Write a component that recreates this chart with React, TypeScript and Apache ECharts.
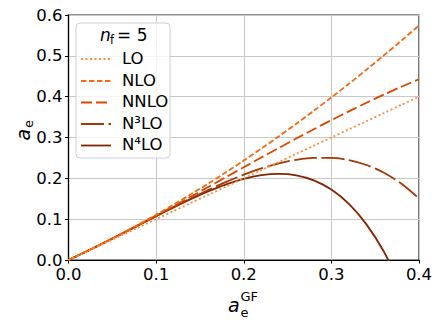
import React, { useEffect, useRef } from "react";
import * as echarts from "echarts";

const xs = [0, 0.02, 0.04, 0.06, 0.08, 0.1, 0.12, 0.14, 0.16, 0.18, 0.2, 0.22, 0.24, 0.26, 0.28, 0.3, 0.32, 0.34, 0.36, 0.38, 0.4];
const lo = [0, 0.02, 0.04, 0.06, 0.08, 0.1, 0.12, 0.14, 0.16, 0.18, 0.2, 0.22, 0.24, 0.26, 0.28, 0.3, 0.32, 0.34, 0.36, 0.38, 0.4];
const nlo = [0, 0.0204, 0.0417, 0.0639, 0.087, 0.1109, 0.1357, 0.1614, 0.1879, 0.2153, 0.2436, 0.2728, 0.3028, 0.3337, 0.3655, 0.3981, 0.4316, 0.466, 0.5013, 0.5374, 0.5744];
const nnlo = [0, 0.0204, 0.0416, 0.0635, 0.0859, 0.1088, 0.1321, 0.1557, 0.1795, 0.2033, 0.2271, 0.2509, 0.2743, 0.2975, 0.3203, 0.3425, 0.3641, 0.385, 0.4052, 0.4244, 0.4426];
const n3lo = [0, 0.0204, 0.0416, 0.0634, 0.0854, 0.1077, 0.1297, 0.1513, 0.172, 0.1913, 0.2089, 0.2242, 0.2365, 0.2454, 0.2502, 0.2502, 0.2446, 0.2327, 0.2137, 0.1867, 0.1508];
const n4lo = [0, 0.0204, 0.0416, 0.0634, 0.0853, 0.1074, 0.1289, 0.1496, 0.1686, 0.1853, 0.1987, 0.2077, 0.211, 0.2074, 0.1951, 0.1724, 0.1372, 0.0873, 0.0202, -0.0669, null];

const seriesNames = ["LO", "NLO", "NNLO", "N³LO", "N⁴LO"];
const seriesValues = [lo, nlo, nnlo, n3lo, n4lo];
const colors = ["#fd8d3c", "#f16913", "#d94801", "#a63603", "#7f2704"];
const dashes: number[][] = [[2, 2.5], [5.5, 2.5], [11, 4], [23, 4.5], []];
const widths = [1.8, 1.8, 1.8, 1.8, 1.8];

const FONT = "DejaVu Sans";

export default function App() {
  const ref = useRef<HTMLDivElement>(null);
  useEffect(() => {
    if (!ref.current) return;
    const chart = echarts.init(ref.current, undefined, { renderer: "svg" });

    const legendX = 76, legendY = 23, legendW = 94, legendH = 135;
    const rowYs = [58, 80, 101.5, 123, 144.5];
    const legendEls: any[] = [
      {
        type: "rect",
        shape: { x: legendX, y: legendY, width: legendW, height: legendH, r: 4 },
        style: { fill: "rgba(255,255,255,0.8)", stroke: "#d0d0d0", lineWidth: 1 },
        z: 100,
      },
      { type: "text", x: 100, y: 34.5, z: 101, style: { text: "n", font: `italic 17px '${FONT}'`, fill: "#000", verticalAlign: "middle", align: "left" } },
      { type: "text", x: 110, y: 40, z: 101, style: { text: "f", font: `11.5px '${FONT}'`, fill: "#000", verticalAlign: "middle", align: "left" } },
      { type: "text", x: 117, y: 34.5, z: 101, style: { text: "= 5", font: `17px '${FONT}'`, fill: "#000", verticalAlign: "middle", align: "left" } },
    ];
    seriesNames.forEach((name, i) => {
      legendEls.push({
        type: "line",
        z: 101,
        shape: { x1: 81, y1: rowYs[i] + 1, x2: 111, y2: rowYs[i] + 1 },
        style: { stroke: colors[i], lineWidth: widths[i], lineDash: dashes[i].length ? dashes[i] : null },
      });
      legendEls.push({
        type: "text",
        z: 101,
        x: 122,
        y: rowYs[i],
        style: { text: name, font: `16.5px '${FONT}'`, fill: "#000", verticalAlign: "middle", align: "left" },
      });
    });

    const axisNameEls: any[] = [
      { type: "text", x: 228, y: 305, style: { text: "a", font: `italic 19px '${FONT}'`, fill: "#000", verticalAlign: "middle", align: "left" } },
      { type: "text", x: 240.5, y: 312, style: { text: "e", font: `13px '${FONT}'`, fill: "#000", verticalAlign: "middle", align: "left" } },
      { type: "text", x: 240.5, y: 296, style: { text: "GF", font: `13px '${FONT}'`, fill: "#000", verticalAlign: "middle", align: "left" } },
      {
        type: "group",
        x: 22.5,
        y: 140.5,
        rotation: Math.PI / 2,
        children: [
          { type: "text", x: 0, y: 0, style: { text: "a", font: `italic 19px '${FONT}'`, fill: "#000", verticalAlign: "middle", align: "left" } },
          { type: "text", x: 12.5, y: 5.5, style: { text: "e", font: `13px '${FONT}'`, fill: "#000", verticalAlign: "middle", align: "left" } },
        ],
      },
    ];

    chart.setOption({
      animation: false,
      backgroundColor: "#fff",
      grid: { left: 68.5, top: 15, width: 350.5, height: 245, show: true, borderColor: "#222", borderWidth: 1.2, backgroundColor: "transparent" },
      xAxis: {
        type: "value",
        min: 0,
        max: 0.4,
        interval: 0.1,
        axisLine: { show: true, lineStyle: { color: "#000", width: 1.2 } },
        axisTick: { show: true, inside: false, length: 3.5, lineStyle: { color: "#000", width: 1 } },
        axisLabel: { color: "#000", fontFamily: FONT, fontSize: 16.5, margin: 6, formatter: (v: number) => v.toFixed(1) },
        splitLine: { show: true, lineStyle: { color: "#c8c8c8", width: 1 } },
      },
      yAxis: {
        type: "value",
        min: 0,
        max: 0.6,
        interval: 0.1,
        axisLine: { show: true, lineStyle: { color: "#000", width: 1.2 } },
        axisTick: { show: true, inside: false, length: 3.5, lineStyle: { color: "#000", width: 1 } },
        axisLabel: { color: "#000", fontFamily: FONT, fontSize: 16.5, margin: 6, formatter: (v: number) => v.toFixed(1) },
        splitLine: { show: true, lineStyle: { color: "#c8c8c8", width: 1 } },
      },
      series: seriesNames.map((name, i) => ({
        name,
        type: "line",
        showSymbol: false,
        symbol: "none",
        smooth: 0.3,
        clip: true,
        z: 2 + (4 - i),
        data: xs.map((x, j) => [x, seriesValues[i][j]]),
        lineStyle: { color: colors[i], width: widths[i], type: dashes[i].length ? dashes[i] : "solid", cap: "butt" },
      })),
      graphic: [...legendEls, ...axisNameEls],
    });
    return () => chart.dispose();
  }, []);
  return <div ref={ref} style={{ position: "absolute", left: 0, top: 0, width: 442, height: 325 }} />;
}
